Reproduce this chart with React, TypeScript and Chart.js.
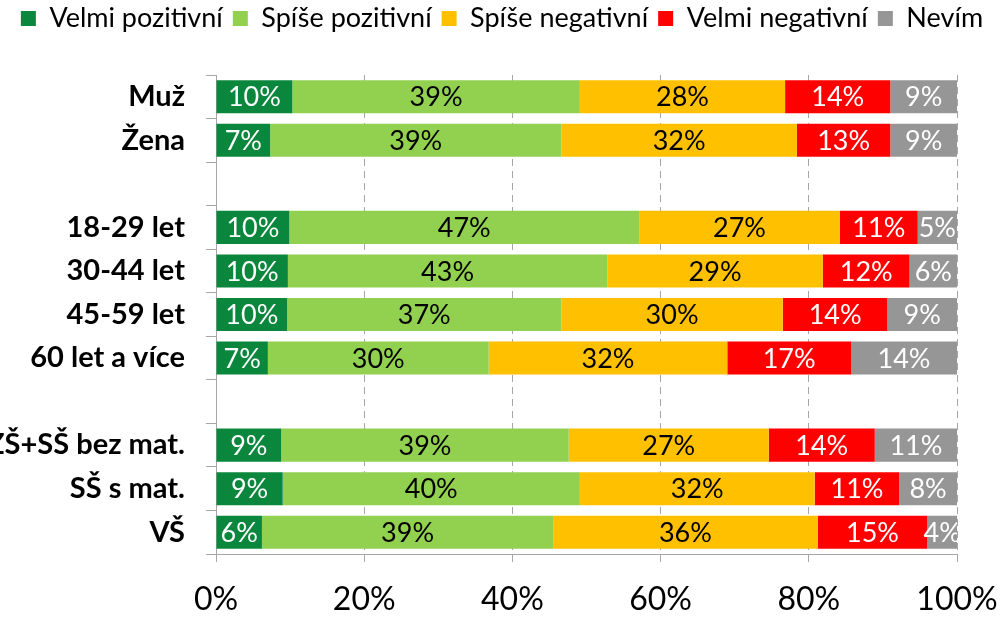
import React, { useEffect, useRef } from "react";
import { Chart, registerables } from "chart.js";

Chart.register(...registerables);

const categories = ["Muž", "Žena", "", "18-29 let", "30-44 let", "45-59 let", "60 let a více", "", "ZŠ+SŠ bez mat.", "SŠ s mat.", "VŠ"];
const seriesNames = ["Velmi pozitivní", "Spíše pozitivní", "Spíše negativní", "Velmi negativní", "Nevím"];
const velmiPozitivni = [10.3, 7.3, null, 9.9, 9.7, 9.6, 7.0, null, 8.8, 9.0, 6.2];
const spisePozitivni = [38.8, 39.3, null, 47.2, 43.1, 37.0, 29.8, null, 38.8, 40.1, 39.3];
const spiseNegativni = [27.7, 31.8, null, 27.1, 29.1, 29.9, 32.2, null, 27.0, 31.7, 35.7];
const velmiNegativni = [14.2, 12.6, null, 10.5, 11.7, 14.1, 16.7, null, 14.3, 11.4, 14.8];
const nevim = [9.0, 9.0, null, 5.3, 6.4, 9.4, 14.3, null, 11.1, 7.8, 4.0];
const xTickValues = [0, 20, 40, 60, 80, 100];

const seriesValues = [velmiPozitivni, spisePozitivni, spiseNegativni, velmiNegativni, nevim];
const seriesColors = ["#0A873C", "#92D050", "#FFC000", "#FF0000", "#969696"];
const labelColors = ["#FFFFFF", "#000000", "#000000", "#FFFFFF", "#FFFFFF"];
const FONT = "Lato";
const GRID = "#A6A6A6";

const barLabels = {
  id: "barLabels",
  afterDatasetsDraw(chart: any) {
    const { ctx, chartArea } = chart;
    ctx.save();
    ctx.beginPath();
    ctx.rect(chartArea.left, chartArea.top, chartArea.right - chartArea.left, chartArea.bottom - chartArea.top);
    ctx.clip();
    ctx.font = `27px ${FONT}`;
    ctx.textAlign = "center";
    ctx.textBaseline = "middle";
    chart.data.datasets.forEach((ds: any, di: number) => {
      const meta = chart.getDatasetMeta(di);
      meta.data.forEach((el: any, i: number) => {
        const v = ds.data[i];
        if (v == null) return;
        const { x, y, base } = el.getProps(["x", "y", "base"], true);
        ctx.fillStyle = labelColors[di];
        ctx.fillText(Math.round(v) + "%", (x + base) / 2, y + 1);
      });
    });
    ctx.restore();
  },
};

const legendHeight = {
  id: "legendHeight",
  afterInit(chart: any) {
    const lg = chart.legend;
    if (!lg) return;
    const fit = lg.fit;
    lg.fit = function () {
      fit.call(this);
      this.height = 80;
    };
  },
};

export default function App() {
  const ref = useRef<HTMLCanvasElement>(null);
  useEffect(() => {
    if (!ref.current) return;
    const chart = new Chart(ref.current, {
      type: "bar",
      data: {
        labels: categories,
        datasets: seriesValues.map((vals, i) => ({
          label: seriesNames[i],
          data: vals,
          backgroundColor: seriesColors[i],
          borderWidth: 0,
          barPercentage: 0.76,
          categoryPercentage: 1,
        })),
      },
      options: {
        indexAxis: "y",
        responsive: false,
        animation: false,
        layout: { padding: { top: -5, left: 0, right: 0, bottom: 0 } },
        plugins: {
          legend: {
            position: "top",
            labels: {
              font: { family: FONT, size: 27 },
              color: "#000",
              boxWidth: 15,
              boxHeight: 15,
              padding: 10,
            },
          },
          tooltip: { enabled: false },
        },
        scales: {
          x: {
            stacked: true,
            min: 0,
            max: 100,
            afterBuildTicks: (s: any) => {
              s.ticks = xTickValues.map((v) => ({ value: v }));
            },
            afterFit: (s: any) => {
              s.height = 64;
              s.paddingLeft = 0;
              s.paddingRight = 0;
            },
            grid: {
              color: (c: any) => (c.index === 0 ? "rgba(0,0,0,0)" : GRID),
              tickColor: GRID,
              lineWidth: 1,
              tickLength: 12,
              tickBorderDash: [7, 5],
            },
            border: { display: true, color: GRID, dash: [7, 5] },
            ticks: {
              font: { family: FONT, size: 32 },
              color: "#000",
              padding: 14,
              callback: (v: any) => v + "%",
            },
          },
          y: {
            stacked: true,
            afterFit: (s: any) => {
              s.width = 216;
            },
            grid: {
              drawOnChartArea: false,
              drawTicks: true,
              tickLength: 10,
              color: GRID,
              offset: true,
            },
            border: { display: true, color: GRID },
            ticks: {
              font: { family: FONT, size: 29, weight: "bold" },
              color: "#000",
              padding: 21,
            },
          },
          y2: {
            position: "right",
            type: "category",
            afterFit: (s: any) => {
              s.width = 47;
            },
            grid: { display: false, drawTicks: false },
            border: { display: false },
            ticks: { display: false },
          },
        },
      },
      plugins: [barLabels, legendHeight],
    } as any);
    return () => chart.destroy();
  }, []);
  return (
    <div style={{ position: "absolute", left: 0, top: 0, width: 1004, height: 618, background: "#fff" }}>
      <canvas ref={ref} width={1004} height={618} style={{ display: "block" }} />
    </div>
  );
}
